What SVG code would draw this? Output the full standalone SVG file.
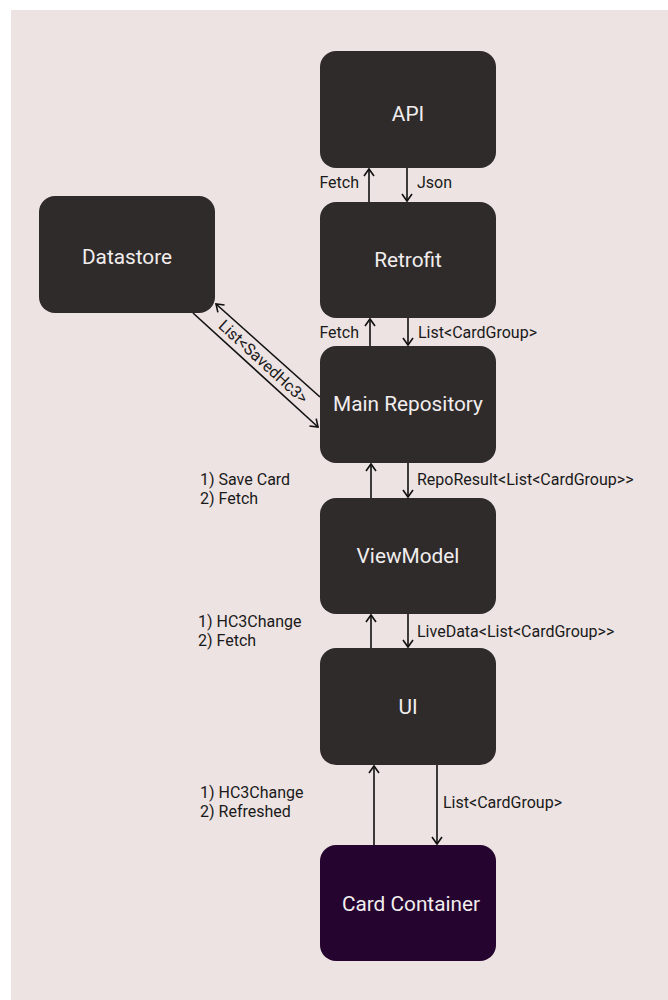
<svg xmlns="http://www.w3.org/2000/svg" width="668" height="1000" viewBox="0 0 668 1000">
<style>
.node{fill:#2f2b2b}
.cc{fill:#25042f}
.nt{font-family:Roboto,"Liberation Sans",sans-serif;font-size:20.8px;fill:#f2eeee;text-anchor:middle}
.lb{font-family:Roboto,"Liberation Sans",sans-serif;font-size:16px;fill:#1a1a1a}
.ln{stroke:#111;stroke-width:1.6;fill:none}
</style>
<defs>
<marker id="ah" viewBox="0 0 12 12" refX="10" refY="6" markerWidth="12" markerHeight="12" markerUnits="userSpaceOnUse" orient="auto">
<path d="M3,1 L10,6 L3,11" fill="none" stroke="#111" stroke-width="1.6"/>
</marker>
</defs>
<rect x="0" y="0" width="668" height="1000" fill="#ffffff"/>
<rect x="11" y="10" width="657" height="990" fill="#ede3e2"/>
<g id="api"><rect class="node" x="320" y="51" width="176" height="117" rx="16"/><text class="nt" x="408" y="121">API</text></g>
<g id="retrofit"><rect class="node" x="320" y="202" width="176" height="116" rx="16"/><text class="nt" x="408" y="267">Retrofit</text></g>
<g id="datastore"><rect class="node" x="39" y="196" width="176" height="117" rx="16"/><text class="nt" x="127" y="264">Datastore</text></g>
<g id="main-repository"><rect class="node" x="320" y="346" width="176" height="117" rx="16"/><text class="nt" x="408" y="411">Main Repository</text></g>
<g id="viewmodel"><rect class="node" x="320" y="498" width="176" height="116" rx="16"/><text class="nt" x="408" y="563">ViewModel</text></g>
<g id="ui"><rect class="node" x="320" y="648" width="176" height="117" rx="16"/><text class="nt" x="408" y="714">UI</text></g>
<g id="card-container"><rect class="cc" x="320" y="845" width="176" height="116" rx="16"/><text class="nt" x="411" y="911">Card Container</text></g>
<g id="connectors">
<line class="ln" x1="369" y1="202" x2="369" y2="169" marker-end="url(#ah)"/>
<line class="ln" x1="407" y1="168" x2="407" y2="201" marker-end="url(#ah)"/>
<line class="ln" x1="370" y1="346" x2="370" y2="319" marker-end="url(#ah)"/>
<line class="ln" x1="408" y1="318" x2="408" y2="345" marker-end="url(#ah)"/>
<line class="ln" x1="371" y1="498" x2="371" y2="464" marker-end="url(#ah)"/>
<line class="ln" x1="408" y1="463" x2="408" y2="497" marker-end="url(#ah)"/>
<line class="ln" x1="371" y1="648" x2="371" y2="615" marker-end="url(#ah)"/>
<line class="ln" x1="408" y1="614" x2="408" y2="647" marker-end="url(#ah)"/>
<line class="ln" x1="374" y1="845" x2="374" y2="766" marker-end="url(#ah)"/>
<line class="ln" x1="437" y1="765" x2="437" y2="844" marker-end="url(#ah)"/>
<line class="ln" x1="320" y1="397" x2="216" y2="304" marker-end="url(#ah)"/>
<line class="ln" x1="193" y1="313" x2="318" y2="427" marker-end="url(#ah)"/>
</g>
<g id="labels">
<text class="lb" x="359" y="188" text-anchor="end">Fetch</text>
<text class="lb" x="417" y="188">Json</text>
<text class="lb" x="359" y="338" text-anchor="end">Fetch</text>
<text class="lb" x="418" y="338">List&lt;CardGroup&gt;</text>
<text class="lb" x="263" y="362" text-anchor="middle" transform="rotate(42.5 263 362)" dy="5">List&lt;SavedHc3&gt;</text>
<text class="lb" x="200" y="485">1) Save Card</text>
<text class="lb" x="200" y="504">2) Fetch</text>
<text class="lb" x="417" y="485">RepoResult&lt;List&lt;CardGroup&gt;&gt;</text>
<text class="lb" x="198" y="627">1) HC3Change</text>
<text class="lb" x="198" y="646">2) Fetch</text>
<text class="lb" x="417" y="637">LiveData&lt;List&lt;CardGroup&gt;&gt;</text>
<text class="lb" x="200" y="798">1) HC3Change</text>
<text class="lb" x="200" y="817">2) Refreshed</text>
<text class="lb" x="443" y="808">List&lt;CardGroup&gt;</text>
</g>
</svg>
